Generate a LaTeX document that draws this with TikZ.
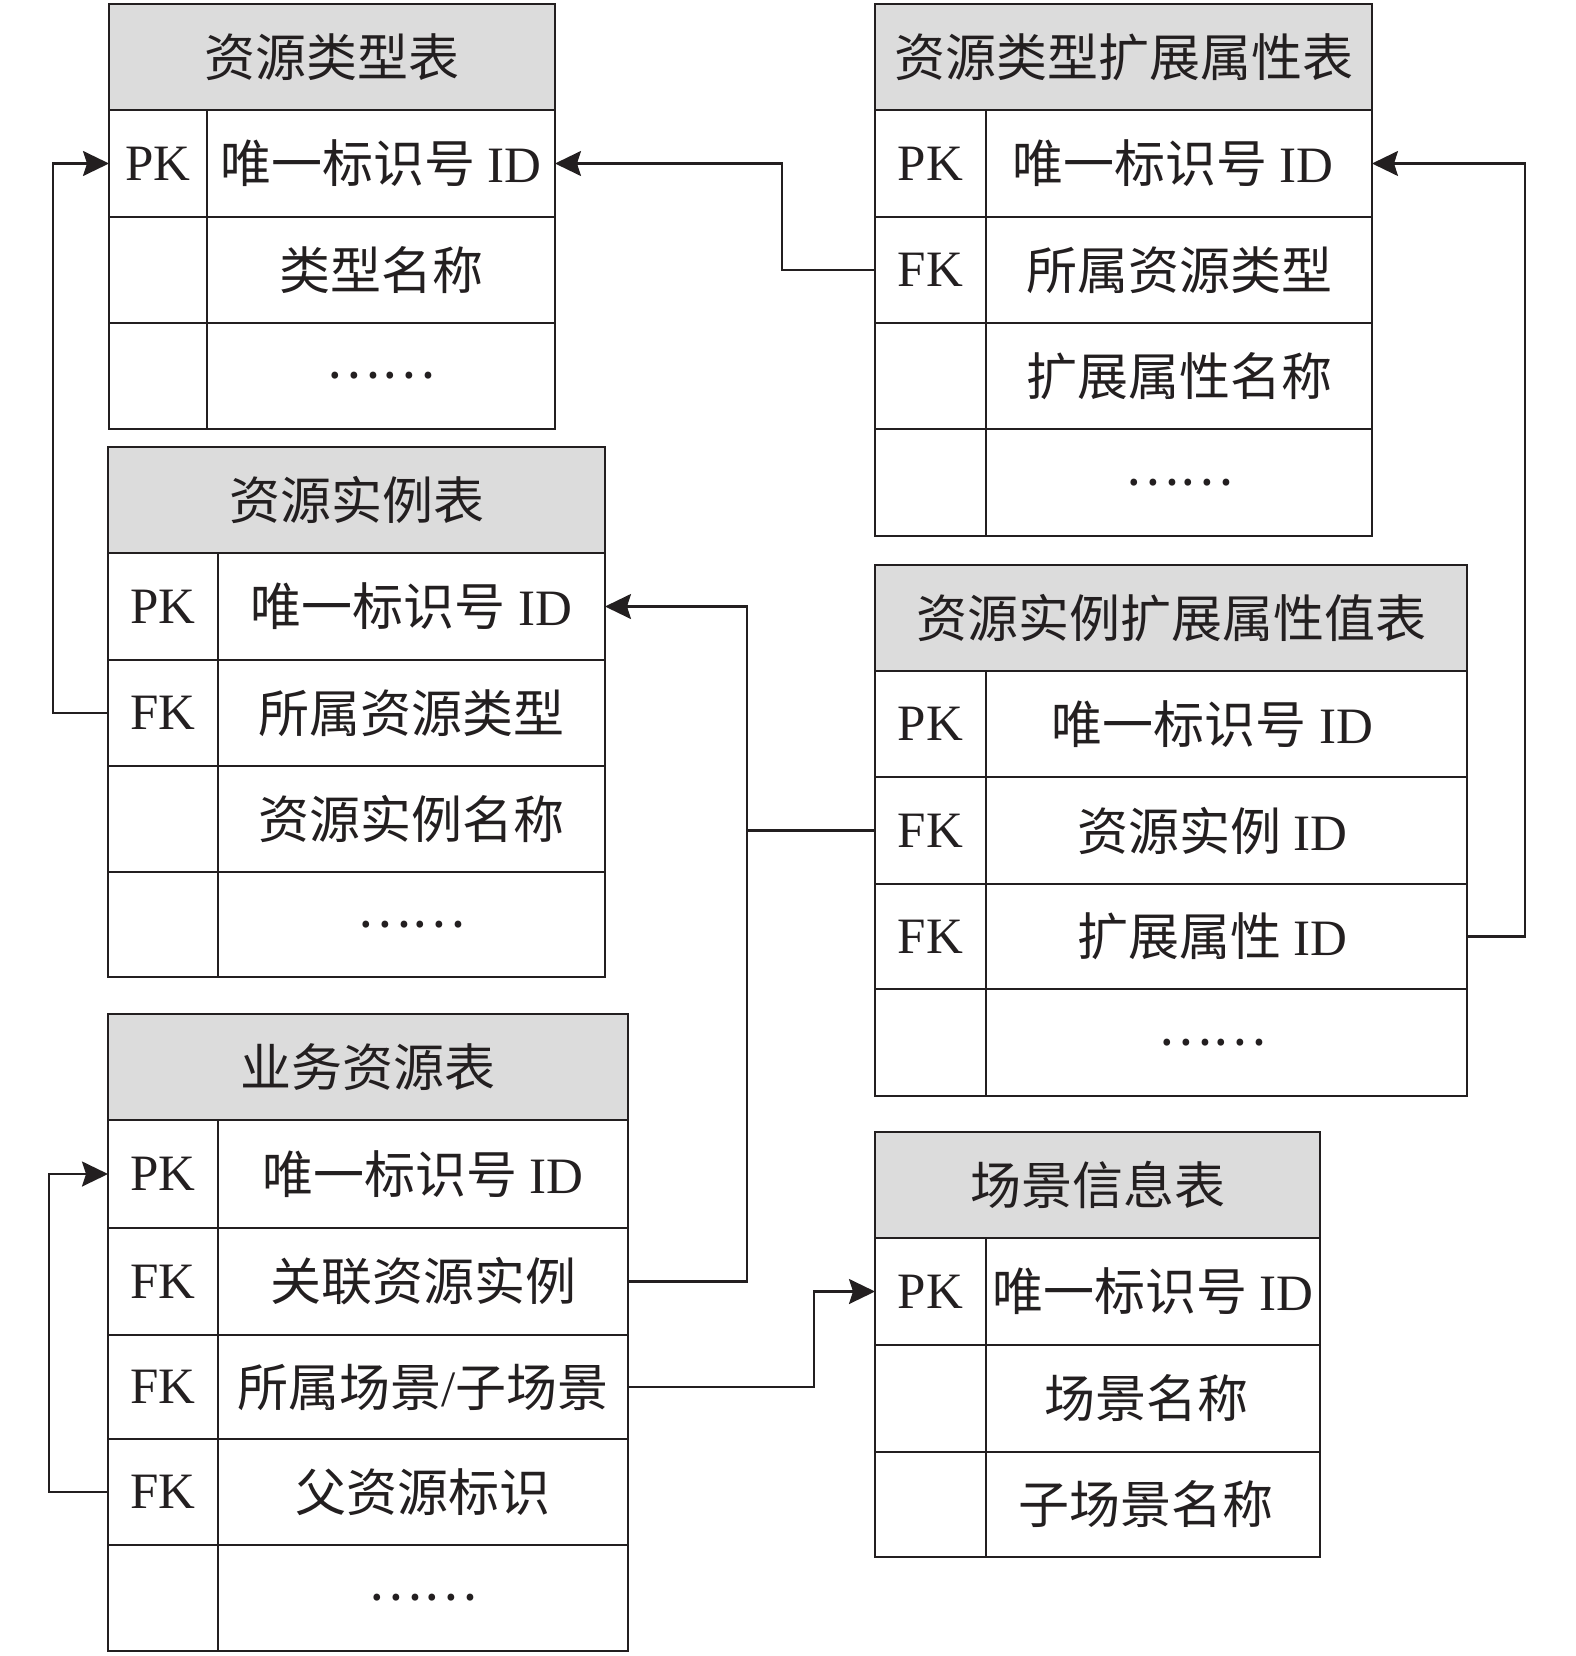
\documentclass[tikz,border=0pt]{standalone}
\usepackage{fontspec}
\setmainfont{Liberation Serif}
\newfontfamily\cjkf{Noto Sans CJK SC}
\usetikzlibrary{arrows.meta}
\definecolor{hdrgray}{HTML}{DCDCDC}
\definecolor{ink}{HTML}{231F20}
\newcommand\zhs[1]{{\cjkf #1}}
\tikzset{
  tbl/.style={draw=ink, line width=2.5pt, inner sep=0pt, outer sep=0pt, anchor=north west,
              text=ink, font=\fontsize{51}{60}\selectfont},
  hdr/.style={tbl, fill=hdrgray, font=\cjkf\fontsize{51}{60}\selectfont},
  cell/.style={tbl},
  conn/.style={draw=ink, line width=2.2pt},
  arr/.style={conn, -{Stealth[length=26pt,width=25pt,inset=4pt]}},
}
\newcommand\tabhead[6]{%
  \node[hdr, minimum width={#3-#2}, minimum height={#5-#4}] (#1) at (#2,#4) {#6};}
\newcommand\tabrow[8]{%
  \node[cell, minimum width={#3-#2}, minimum height={#6-#5}] (#1k) at (#2,#5) {#7};
  \node[cell, minimum width={#4-#3}, minimum height={#6-#5}] (#1f) at (#3,#5) {#8};}
\begin{document}
\begin{tikzpicture}[x=1pt, y=-1pt]
\useasboundingbox (0,0) rectangle (1575,1656);
% 资源类型表
\tabhead{t1h}{109}{555}{4}{110}{资源类型表}
\tabrow{t1a}{109}{207}{555}{110}{217}{PK}{\zhs{唯一标识号} ID}
\tabrow{t1b}{109}{207}{555}{217}{323}{}{\zhs{类型名称}}
\tabrow{t1c}{109}{207}{555}{323}{429}{}{\zhs{……}}
% 资源实例表
\tabhead{t2h}{108}{605}{447}{553}{资源实例表}
\tabrow{t2a}{108}{218}{605}{553}{660}{PK}{\zhs{唯一标识号} ID}
\tabrow{t2b}{108}{218}{605}{660}{766}{FK}{\zhs{所属资源类型}}
\tabrow{t2c}{108}{218}{605}{766}{872}{}{\zhs{资源实例名称}}
\tabrow{t2d}{108}{218}{605}{872}{977}{}{\zhs{……}}
% 业务资源表
\tabhead{b1h}{108}{628}{1014}{1120}{业务资源表}
\tabrow{b1a}{108}{218}{628}{1120}{1228}{PK}{\zhs{唯一标识号} ID}
\tabrow{b1b}{108}{218}{628}{1228}{1335}{FK}{\zhs{关联资源实例}}
\tabrow{b1c}{108}{218}{628}{1335}{1439}{FK}{\zhs{所属场景}/\zhs{子场景}}
\tabrow{b1d}{108}{218}{628}{1439}{1545}{FK}{\zhs{父资源标识}}
\tabrow{b1e}{108}{218}{628}{1545}{1651}{}{\zhs{……}}
% 资源类型扩展属性表
\tabhead{e1h}{875}{1372}{4}{110}{资源类型扩展属性表}
\tabrow{e1a}{875}{986}{1372}{110}{217}{PK}{\zhs{唯一标识号} ID\kern12pt}
\tabrow{e1b}{875}{986}{1372}{217}{323}{FK}{\zhs{所属资源类型}}
\tabrow{e1c}{875}{986}{1372}{323}{429}{}{\zhs{扩展属性名称}}
\tabrow{e1d}{875}{986}{1372}{429}{536}{}{\zhs{……}}
% 资源实例扩展属性值表
\tabhead{v1h}{875}{1467}{565}{671}{资源实例扩展属性值表}
\tabrow{v1a}{875}{986}{1467}{671}{777}{PK}{\zhs{唯一标识号} ID\kern28pt}
\tabrow{v1b}{875}{986}{1467}{777}{884}{FK}{\zhs{资源实例} ID\kern28pt}
\tabrow{v1c}{875}{986}{1467}{884}{989}{FK}{\zhs{扩展属性} ID\kern28pt}
\tabrow{v1d}{875}{986}{1467}{989}{1096}{}{\zhs{……}\kern28pt}
% 场景信息表
\tabhead{s1h}{875}{1320}{1132}{1238}{场景信息表}
\tabrow{s1a}{875}{986}{1320}{1238}{1345}{PK}{\zhs{唯一标识号} ID}
\tabrow{s1b}{875}{986}{1320}{1345}{1452}{}{\zhs{场景名称}\kern14pt}
\tabrow{s1c}{875}{986}{1320}{1452}{1557}{}{\zhs{子场景名称}\kern14pt}
% connectors
\draw[arr] (e1bk.west) -- ++(-93,0) |- (t1af.east);
\draw[arr] (t2bk.west) -- ++(-55,0) |- (t1ak.west);
\draw[arr] (b1bf.east) -- ++(119,0) coordinate (bus) |- (t2af.east);
\draw[conn] (v1bk.west) -- (v1bk.west -| bus);
\draw[arr] (v1cf.east) -- ++(58,0) |- (e1af.east);
\draw[arr] (b1cf.east) -- ++(186,0) |- (s1ak.west);
\draw[arr] (b1dk.west) -- ++(-59,0) |- (b1ak.west);
\end{tikzpicture}
\end{document}
